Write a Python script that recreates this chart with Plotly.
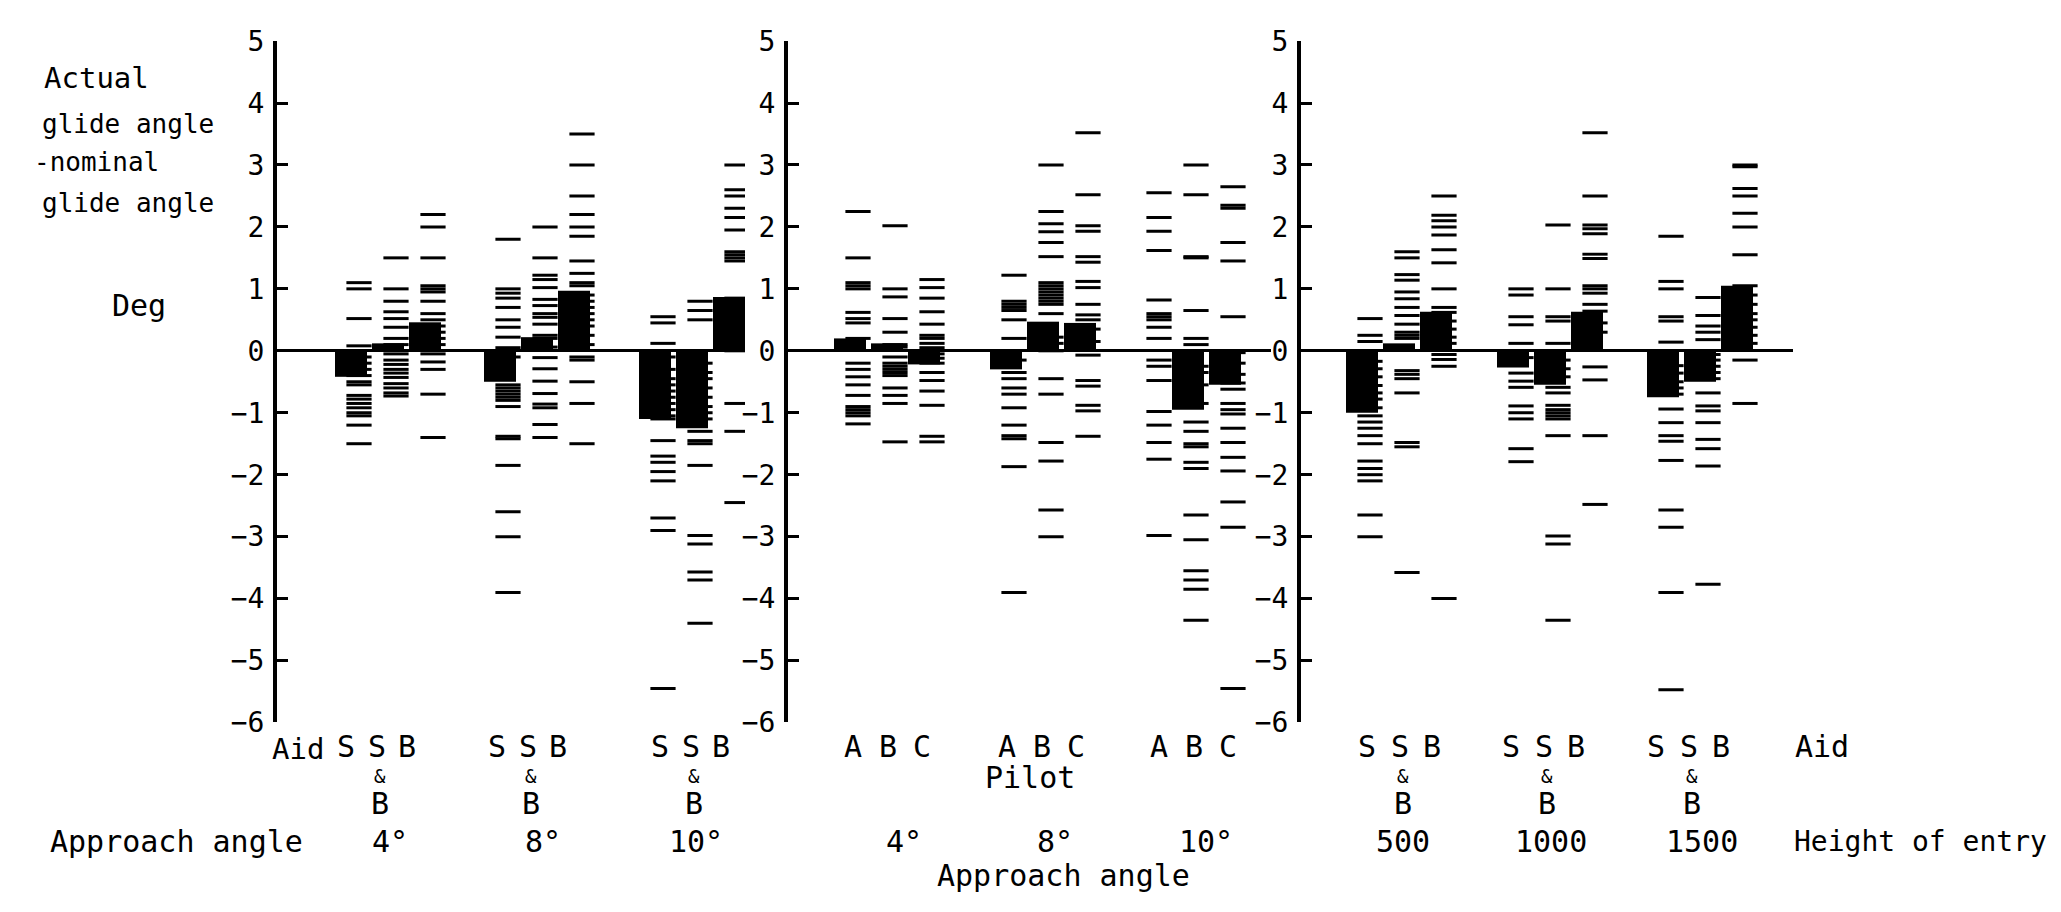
import plotly.graph_objects as go

W, H = 2061, 912
FONT = "DejaVu Sans Mono"

# ---------------- data ----------------
aid_labels = ["S", "S&B", "B"]
pilot_labels = ["A", "B", "C"]
angle_labels = ["4°", "8°", "10°"]
height_labels = ["500", "1000", "1500"]
y_ticks = list(range(-6, 6))

# mean deviation (bars), [group][column]
mean_aid_angle = [[-0.42, 0.12, 0.46], [-0.50, 0.22, 0.97], [-1.10, -1.25, 0.87]]
mean_pilot_angle = [[0.20, 0.12, -0.22], [-0.30, 0.47, 0.45], [0.00, -0.95, -0.55]]
mean_aid_height = [[-1.00, 0.12, 0.63], [-0.27, -0.55, 0.63], [-0.75, -0.50, 1.05]]

# individual approaches (dashes)
a4_S = [1.1, 1.0, 0.52, 0.08, -0.1, -0.2, -0.3, -0.4, -0.5, -0.55, -0.72, -0.78, -0.85, -0.92, -1.0, -1.05, -1.2, -1.5]
a4_SB = [1.5, 1.0, 0.8, 0.63, 0.52, 0.38, 0.2, 0.1, -0.05, -0.15, -0.22, -0.3, -0.36, -0.43, -0.53, -0.6, -0.68, -0.73]
a4_B = [2.2, 2.0, 1.5, 1.05, 1.0, 0.95, 0.8, 0.6, 0.5, 0.4, 0.3, 0.2, 0.1, -0.05, -0.18, -0.3, -0.7, -1.4]
a8_S = [1.8, 1.0, 0.93, 0.85, 0.7, 0.5, 0.38, 0.22, 0.05, -0.1, -0.55, -0.6, -0.65, -0.7, -0.75, -0.8, -0.9, -1.38, -1.42, -1.85, -2.6, -3.0, -3.9]
a8_SB = [2.0, 1.5, 1.22, 1.15, 1.02, 0.83, 0.73, 0.6, 0.54, 0.43, 0.25, 0.2, 0.06, -0.11, -0.29, -0.49, -0.69, -0.86, -0.92, -1.19, -1.4]
a8_B = [3.5, 3.0, 2.5, 2.2, 2.0, 1.85, 1.45, 1.25, 1.1, 1.05, 0.9, 0.8, 0.7, 0.6, 0.5, 0.4, 0.25, 0.1, -0.1, -0.15, -0.5, -0.85, -1.5]
a10_S = [0.55, 0.45, 0.12, -0.1, -0.3, -0.45, -0.55, -0.65, -0.75, -0.85, -0.95, -1.05, -1.1, -1.45, -1.7, -1.8, -1.95, -2.1, -2.7, -2.9, -5.45]
a10_SB = [0.8, 0.65, 0.5, -0.2, -0.35, -0.45, -0.6, -0.75, -0.9, -1.0, -1.1, -1.3, -1.45, -1.5, -1.85, -2.98, -3.12, -3.57, -3.7, -4.4]
a10_B = [3.0, 2.6, 2.5, 2.3, 2.15, 1.95, 1.6, 1.55, 1.5, 1.45, 0.85, 0.75, 0.62, 0.6, 0.45, 0.3, 0.2, 0.0, -0.85, -1.3, -2.45]

p4_A = [2.25, 1.5, 1.1, 1.05, 1.0, 0.62, 0.52, 0.45, 0.2, -0.2, -0.3, -0.42, -0.55, -0.72, -0.9, -0.95, -1.0, -1.05, -1.18]
p4_B = [2.02, 1.0, 0.87, 0.52, 0.3, 0.1, 0.06, -0.1, -0.2, -0.25, -0.3, -0.35, -0.4, -0.6, -0.72, -0.85, -1.47]
p4_C = [1.15, 1.02, 0.85, 0.63, 0.43, 0.25, 0.2, 0.12, 0.05, -0.05, -0.12, -0.2, -0.35, -0.48, -0.65, -0.88, -1.38, -1.47]
p8_A = [1.22, 0.8, 0.75, 0.7, 0.65, 0.5, 0.2, -0.15, -0.35, -0.45, -0.6, -0.7, -0.92, -1.2, -1.37, -1.42, -1.87, -3.9]
p8_B = [3.0, 2.25, 2.05, 1.92, 1.75, 1.52, 1.1, 1.05, 1.0, 0.95, 0.9, 0.85, 0.8, 0.75, 0.6, 0.22, 0.12, 0.0, -0.45, -0.7, -1.48, -1.78, -2.57, -3.0]
p8_C = [3.52, 2.52, 2.02, 1.93, 1.52, 1.43, 1.12, 1.02, 0.75, 0.58, 0.5, 0.35, 0.15, -0.07, -0.48, -0.57, -0.88, -0.97, -1.38]
p10_A = [2.55, 2.15, 1.93, 1.62, 0.82, 0.6, 0.55, 0.5, 0.38, 0.2, -0.15, -0.25, -0.48, -0.98, -1.2, -1.48, -1.75, -2.98]
p10_B = [3.0, 2.52, 1.52, 1.5, 0.65, 0.2, 0.1, -0.25, -0.35, -0.55, -0.85, -1.15, -1.3, -1.5, -1.55, -1.8, -1.9, -2.65, -3.05, -3.55, -3.7, -3.85, -4.35]
p10_C = [2.65, 2.35, 2.3, 1.75, 1.45, 0.55, -0.03, -0.2, -0.38, -0.52, -0.62, -0.85, -0.95, -1.02, -1.25, -1.48, -1.72, -1.94, -2.44, -2.85, -5.45]

h500_S = [0.52, 0.25, 0.15, -0.17, -0.29, -0.42, -0.56, -0.68, -0.78, -0.92, -1.05, -1.15, -1.25, -1.37, -1.5, -1.78, -1.9, -2.0, -2.1, -2.65, -3.0]
h500_SB = [1.6, 1.5, 1.23, 1.14, 0.95, 0.84, 0.7, 0.57, 0.43, 0.3, 0.25, 0.2, -0.32, -0.38, -0.45, -0.68, -1.48, -1.55, -3.58]
h500_B = [2.5, 2.19, 2.1, 2.0, 1.87, 1.63, 1.42, 1.0, 0.7, 0.62, 0.48, 0.35, 0.22, 0.12, -0.06, -0.14, -0.25, -4.0]
h1000_S = [1.0, 0.9, 0.55, 0.42, 0.12, -0.11, -0.36, -0.49, -0.59, -0.89, -1.0, -1.1, -1.58, -1.79]
h1000_SB = [2.03, 1.0, 0.55, 0.48, 0.12, -0.15, -0.29, -0.42, -0.59, -0.68, -0.88, -0.95, -1.0, -1.05, -1.1, -1.37, -2.99, -3.12, -4.35]
h1000_B = [3.52, 2.5, 2.03, 1.97, 1.89, 1.56, 1.49, 1.05, 1.0, 0.93, 0.75, 0.64, 0.45, 0.3, -0.26, -0.47, -1.37, -2.48]
h1500_S = [1.85, 1.12, 1.0, 0.55, 0.48, 0.14, -0.24, -0.36, -0.5, -0.6, -0.7, -0.94, -1.16, -1.37, -1.46, -1.77, -2.57, -2.85, -3.9, -5.47]
h1500_SB = [0.86, 0.57, 0.4, 0.3, 0.18, -0.06, -0.15, -0.25, -0.35, -0.45, -0.68, -0.89, -0.97, -1.16, -1.43, -1.58, -1.86, -3.77]
h1500_B = [3.0, 2.97, 2.62, 2.5, 2.22, 2.0, 1.55, 1.05, 0.9, 0.75, 0.6, 0.5, 0.38, 0.25, 0.12, -0.15, -0.85]

panels = [
    dict(means=mean_aid_angle, runs=[[a4_S, a4_SB, a4_B], [a8_S, a8_SB, a8_B], [a10_S, a10_SB, a10_B]],
         cols=aid_labels, groups=angle_labels),
    dict(means=mean_pilot_angle, runs=[[p4_A, p4_B, p4_C], [p8_A, p8_B, p8_C], [p10_A, p10_B, p10_C]],
         cols=pilot_labels, groups=angle_labels),
    dict(means=mean_aid_height, runs=[[h500_S, h500_SB, h500_B], [h1000_S, h1000_SB, h1000_B], [h1500_S, h1500_SB, h1500_B]],
         cols=aid_labels, groups=height_labels),
]

# ---------------- layout constants (pixels) ----------------
PANEL_X0 = [277, 788, 1301]
PANEL_X1 = [745, 1271, 1793]
GROUP_X0 = [[335, 484, 639], [834, 990, 1135], [1346, 1497, 1647]]
COL_STEP = 37
BAR_W = 32
DASH_LEN = 18
LABEL_X0 = [[346, 497, 660], [853, 1007, 1159], [1367, 1511, 1656]]
LABEL_STEP = [30.5, 34.5, 32.5]
GROUP_LABEL_X = [[390, 543, 696], [904, 1055, 1206], [1403, 1551, 1702]]
Y_TOP, Y_BOT = 26, 733
ROW1, ROW2, ROW3, ROW4 = 758, 789, 817, 856

fig = go.Figure()
layout = {}
ann = []


def txt(text, xpx, ypx, size=30, xanchor="center"):
    ann.append(dict(text=text, x=xpx / W, y=1 - ypx / H, xref="paper", yref="paper",
                    xanchor=xanchor, yanchor="middle", showarrow=False,
                    font=dict(family=FONT, size=size, color="black")))


for p, pan in enumerate(panels):
    xa = "x" if p == 0 else f"x{p + 1}"
    ya = "y" if p == 0 else f"y{p + 1}"
    bx, by, dx, dy = [], [], [], []
    for g in range(3):
        for c in range(3):
            left = GROUP_X0[p][g] + c * COL_STEP
            bx.append(left + BAR_W / 2)
            by.append(pan["means"][g][c])
            for v in pan["runs"][g][c]:
                dx.append(left + BAR_W + 1 - DASH_LEN / 2)
                dy.append(v)
    fig.add_trace(go.Scatter(x=dx, y=dy, mode="markers", xaxis=xa, yaxis=ya, showlegend=False,
                             marker=dict(symbol="line-ew", size=DASH_LEN, color="black",
                                         line=dict(width=3, color="black"))))
    fig.add_trace(go.Bar(x=bx, y=by, width=BAR_W, xaxis=xa, yaxis=ya, showlegend=False,
                         marker=dict(color="black", line=dict(width=0))))
    layout["xaxis" if p == 0 else f"xaxis{p + 1}"] = dict(
        domain=[PANEL_X0[p] / W, PANEL_X1[p] / W], range=[PANEL_X0[p], PANEL_X1[p]],
        anchor=ya, visible=False, fixedrange=True)
    layout["yaxis" if p == 0 else f"yaxis{p + 1}"] = dict(
        domain=[1 - Y_BOT / H, 1 - Y_TOP / H], range=[-6, 5], anchor=xa,
        showline=True, linewidth=4, linecolor="black",
        ticks="inside", ticklen=11, tickwidth=3, tickcolor="black",
        tickvals=y_ticks, showgrid=False,
        zeroline=True, zerolinecolor="black", zerolinewidth=3,
        tickfont=dict(family=FONT, size=28, color="black"), ticklabelstandoff=3)

    # category labels under each column
    for g in range(3):
        for c, lab in enumerate(pan["cols"]):
            x = LABEL_X0[p][g] + c * LABEL_STEP[p]
            if lab == "S&B":
                txt("S", x, ROW1)
                txt("&", x + 3, ROW2, size=19)
                txt("B", x + 3, ROW3)
            else:
                txt(lab, x, ROW1)
        txt(pan["groups"][g], GROUP_LABEL_X[p][g], ROW4)

# axis/row titles
txt("Actual", 42, 64, size=29, xanchor="left")
txt("glide angle", 40, 112, size=26, xanchor="left")
txt("-nominal", 32, 151, size=26, xanchor="left")
txt("glide angle", 40, 194, size=26, xanchor="left")
txt("Deg", 110, 300, size=30, xanchor="left")
txt("Aid", 298, 761, size=29)
txt("Approach angle", 176, ROW4)
txt("Pilot", 1030, 790)
txt("Approach angle", 1063, 892)
txt("Aid", 1793, ROW1, xanchor="left")
txt("Height of entry", 1792, ROW4, size=28, xanchor="left")

fig.update_layout(**layout)
fig.update_layout(width=W, height=H, margin=dict(l=0, r=0, t=0, b=0),
                  paper_bgcolor="white", plot_bgcolor="white",
                  barmode="overlay", showlegend=False, annotations=ann,
                  font=dict(family=FONT, color="black"))

fig.write_html("out.html", config={"displayModeBar": False},
               post_script="document.body.style.margin='0px';document.body.style.overflow='hidden';")
